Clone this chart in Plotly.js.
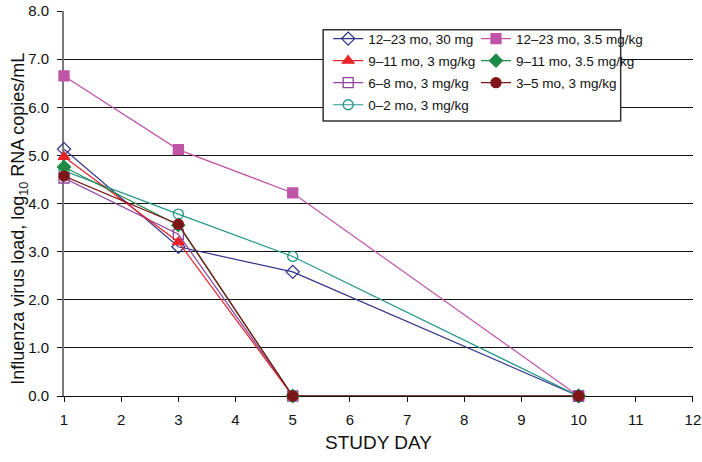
<!DOCTYPE html>
<html>
<head>
<meta charset="utf-8">
<script src="https://cdn.plot.ly/plotly-3.0.1.min.js"></script>
<style>html,body{margin:0;padding:0;background:#fff;}#chart{width:702px;height:462px;}</style>
</head>
<body>
<div id="chart"></div>
<script>
const days = [1, 3, 5, 10];
const xTicks = [1,2,3,4,5,6,7,8,9,10,11,12];
const yTicks = [0,1,2,3,4,5,6,7,8];
const yTickLabels = ["0.0","1.0","2.0","3.0","4.0","5.0","6.0","7.0","8.0"];
const xTitle = "STUDY DAY";
const yTitle = "Influenza virus load, log<sub>10</sub> RNA copies/mL";

const names = {
  m12_23_35: "12–23 mo, 3.5 mg/kg",
  m12_23_30: "12–23 mo, 30 mg",
  m0_2: "0–2 mo, 3 mg/kg",
  m6_8: "6–8 mo, 3 mg/kg",
  m9_11_3: "9–11 mo, 3 mg/kg",
  m9_11_35: "9–11 mo, 3.5 mg/kg",
  m3_5: "3–5 mo, 3 mg/kg"
};
const v12_23_35 = [6.65, 5.12, 4.22, 0];
const v12_23_30 = [5.13, 3.10, 2.58, 0];
const v0_2 = [4.68, 3.78, 2.90, 0];
const v6_8 = [4.53, 3.36, 0, 0];
const v9_11_3 = [4.97, 3.20, 0, 0];
const v9_11_35 = [4.76, 3.55, 0, 0];
const v3_5 = [4.57, 3.57, 0, 0];

function tr(name, y, color, symbol, legend, rank) {
  return {
    x: days, y: y, name: name, type: 'scatter', mode: 'lines+markers',
    line: {color: color, width: 1.2},
    marker: {symbol: symbol, size: 10, color: color,
             line: {color: color, width: 1.3}},
    cliponaxis: false, legend: legend, legendrank: rank, legendgroup: name
  };
}

const data = [
  tr(names.m12_23_35, v12_23_35, '#c055a8', 'square', 'legend2', 1),
  tr(names.m12_23_30, v12_23_30, '#33338a', 'diamond-open', 'legend', 1),
  tr(names.m0_2, v0_2, '#25968a', 'circle-open', 'legend', 4),
  tr(names.m6_8, v6_8, '#8e45a0', 'square-open', 'legend', 3),
  tr(names.m9_11_3, v9_11_3, '#e8232a', 'triangle-up', 'legend', 2),
  tr(names.m9_11_35, v9_11_35, '#1e8a48', 'diamond', 'legend2', 2),
  tr(names.m3_5, v3_5, '#7e1518', 'circle', 'legend2', 3)
];

const legFont = {family: 'Liberation Sans, Arial, sans-serif', size: 13.5, color: '#111'};
const layout = {
  width: 702, height: 462,
  margin: {l: 64, r: 9, t: 11, b: 66},
  paper_bgcolor: '#fff', plot_bgcolor: '#fff',
  font: {family: 'Liberation Sans, Arial, sans-serif', color: '#111'},
  showlegend: true,
  legend: {x: 0.42, y: 0.968, xanchor: 'left', yanchor: 'top', bgcolor: 'rgba(0,0,0,0)', font: legFont, borderwidth: 0, tracegroupgap: 1.5},
  legend2: {x: 0.655, y: 0.968, xanchor: 'left', yanchor: 'top', bgcolor: 'rgba(0,0,0,0)', font: legFont, borderwidth: 0, tracegroupgap: 1.5},
  xaxis: {
    range: [0.9999, 12.001], tickmode: 'array', tickvals: xTicks, ticktext: xTicks.map(String),
    ticks: 'outside', ticklen: 5, tickcolor: '#111', showgrid: false, zeroline: false,
    showline: true, linecolor: '#111', linewidth: 1, layer: 'below traces',
    tickfont: {size: 15, color: '#111'}, ticklabelstandoff: 5,
    title: {text: xTitle, font: {size: 19, color: '#111'}, standoff: 8}
  },
  yaxis: {
    range: [0, 8], tickmode: 'array', tickvals: yTicks, ticktext: yTickLabels,
    ticks: 'outside', ticklen: 5, tickcolor: '#111', showgrid: true, gridcolor: '#111', gridwidth: 1,
    zeroline: false, showline: true, linecolor: '#7a7a7a', linewidth: 2, layer: 'below traces',
    tickfont: {size: 15, color: '#111'}, ticklabelstandoff: 5
  },
  annotations: [{
    text: yTitle, xref: 'paper', yref: 'paper', x: -0.07, y: 0.46,
    xanchor: 'center', yanchor: 'middle', textangle: -90, showarrow: false,
    font: {size: 18, color: '#111'}
  }],
  shapes: [{
    type: 'rect', xref: 'paper', yref: 'paper', layer: 'above',
    x0: 0.412, x1: 0.885, y0: 0.714, y1: 0.951,
    fillcolor: '#fff', line: {color: '#333', width: 1.5}
  }]
};

Plotly.newPlot('chart', data, layout, {staticPlot: true, displayModeBar: false});
</script>
</body>
</html>
